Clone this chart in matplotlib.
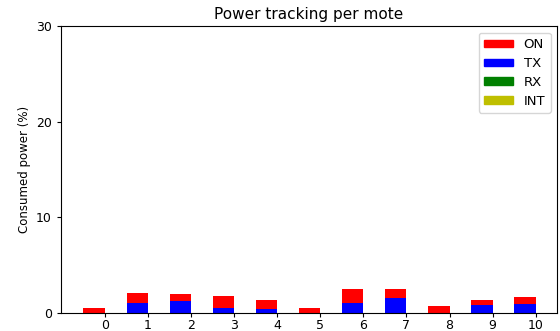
import numpy as np
import matplotlib
matplotlib.use('Agg')
import matplotlib.pyplot as plt
from matplotlib.patches import Patch

# per mote consumed power (%)
motes = [0, 1, 2, 3, 4, 5, 6, 7, 8, 9, 10]
tx_pct = [0.0, 1.05, 1.3, 0.58, 0.42, 0.0, 1.1, 1.6, 0.0, 0.8, 0.97]
rx_pct = [0.0] * 11
int_pct = [0.0] * 11
total_pct = [0.55, 2.1, 2.0, 1.8, 1.38, 0.55, 2.5, 2.5, 0.75, 1.38, 1.7]
on_pct = [t - a for t, a in zip(total_pct, tx_pct)]

series_names = ["ON", "TX", "RX", "INT"]
series_colors = ["red", "blue", "green", "y"]

fig = plt.figure(figsize=(5.6, 3.31), dpi=100)
ax = fig.add_axes([0.109, 0.054, 0.886, 0.867])

ind = np.array(motes)
width = -0.5
bottom = np.zeros(len(ind))
for vals, col in [(tx_pct, "blue"), (rx_pct, "green"), (int_pct, "y"), (on_pct, "red")]:
    ax.bar(ind, vals, width=width, align='edge', bottom=bottom, color=col)
    bottom = bottom + np.array(vals)

ax.set_xlim(-1.02, 10.5)
ax.set_ylim(0, 30)
ax.set_xticks(motes)
ax.set_yticks([0, 10, 20, 30])
ax.tick_params(labelsize=9, length=3)
ax.tick_params(axis='x', pad=1.5)
ax.set_title("Power tracking per mote", fontsize=11, pad=5)
ax.set_ylabel("Consumed power (%)", fontsize=8.5, family=['Liberation Sans Narrow', 'DejaVu Sans'])

handles = [Patch(color=c) for c in series_colors]
ax.legend(handles, series_names, loc='upper right', fontsize=9.5, handlelength=2.2,
          handleheight=0.5, labelspacing=0.45, fancybox=True)

fig.savefig("out.png", dpi=100)
